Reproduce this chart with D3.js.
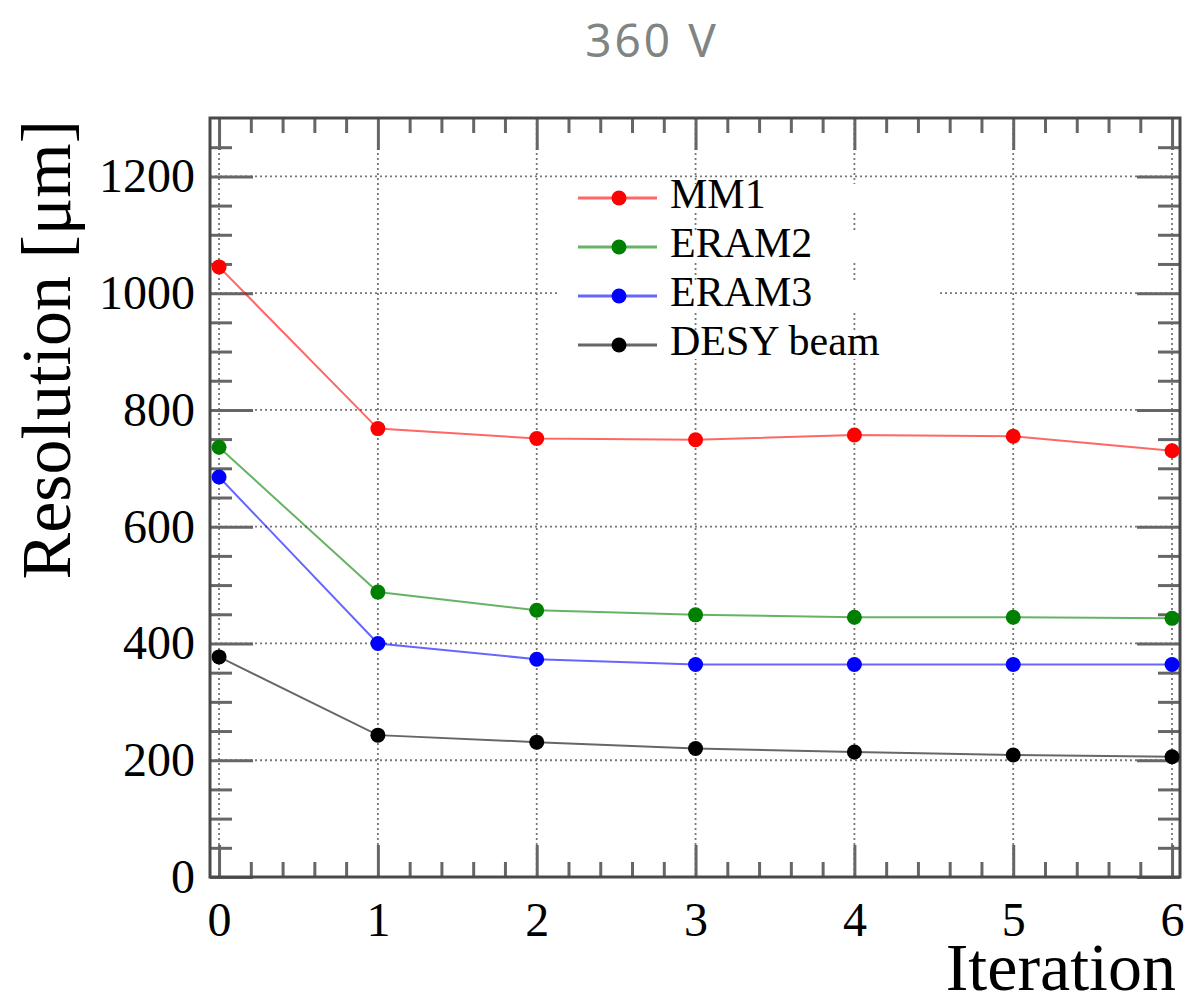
<!DOCTYPE html>
<html>
<head>
    <script src="https://cdnjs.cloudflare.com/ajax/libs/d3/7.8.5/d3.min.js"></script>
    <style>
        body { margin: 0; background: #fff; }
        .tick text { font-family: "Liberation Serif", "Times New Roman", serif; font-size: 48px; fill: #000; }
        .domain { display: none; }
        .grid line { stroke: #777; stroke-width: 1.8; stroke-dasharray: 2,3; }
    </style>
</head>
<body>
    <div id="chart"></div>
    <script>
        // Data
        const iterations = [0, 1, 2, 3, 4, 5, 6];
        const mm1 = [1045, 768, 751, 749, 757, 755, 730];
        const eram2 = [736, 488, 457, 449, 445, 445, 443];
        const eram3 = [685, 400, 373, 364, 364, 364, 364];
        const desy = [377, 243, 231, 220, 214, 209, 206];
        const seriesNames = ["MM1", "ERAM2", "ERAM3", "DESY beam"];
        const seriesColors = ["#ff0000", "#008000", "#0000ff", "#000000"];
        const yTicks = [0, 200, 400, 600, 800, 1000, 1200];

        const width = 1187, height = 1000;
        const pLeft = 210, pRight = 1180, pTop = 118, pBottom = 877;

        const svg = d3.select("#chart").append("svg")
            .attr("width", width)
            .attr("height", height);

        const x = d3.scaleLinear().domain([-0.057, 6.05]).range([pLeft, pRight]);
        const y = d3.scaleLinear().domain([0, 1300]).range([pBottom, pTop]);

        // title
        svg.append("text")
            .attr("x", 652).attr("y", 57)
            .attr("text-anchor", "middle")
            .style("font-family", "'Noto Sans', sans-serif")
            .style("font-size", "46px")
            .style("letter-spacing", "3px")
            .style("fill", "#7f8585")
            .text("360 V");

        // grid
        const grid = svg.append("g").attr("class", "grid");
        grid.selectAll(".gx").data(iterations).join("line")
            .attr("x1", d => x(d)).attr("x2", d => x(d))
            .attr("y1", pTop).attr("y2", pBottom);
        grid.selectAll(".gy").data(yTicks.slice(1)).join("line")
            .attr("x1", pLeft).attr("x2", pRight)
            .attr("y1", d => y(d)).attr("y2", d => y(d));

        // minor ticks
        const xMinor = d3.range(0, 30).map(i => i / 5).filter(v => v % 1 !== 0);
        const yMinor = d3.range(50, 1300, 50).filter(v => v % 200 !== 0);

        function styleTicks(g, w) {
            g.selectAll(".tick line").attr("stroke", "#666").attr("stroke-width", w);
        }

        svg.append("g").attr("transform", `translate(0,${pBottom})`)
            .call(d3.axisBottom(x).tickValues(xMinor).tickSize(-15).tickFormat(""))
            .call(g => styleTicks(g, 3));
        svg.append("g").attr("transform", `translate(0,${pTop})`)
            .call(d3.axisTop(x).tickValues(xMinor).tickSize(-15).tickFormat(""))
            .call(g => styleTicks(g, 3));
        svg.append("g").attr("transform", `translate(${pLeft},0)`)
            .call(d3.axisLeft(y).tickValues(yMinor).tickSize(-22).tickFormat(""))
            .call(g => styleTicks(g, 3));
        svg.append("g").attr("transform", `translate(${pRight},0)`)
            .call(d3.axisRight(y).tickValues(yMinor).tickSize(-22).tickFormat(""))
            .call(g => styleTicks(g, 3));

        // major ticks + labels
        svg.append("g").attr("transform", `translate(0,${pBottom})`)
            .call(d3.axisBottom(x).tickValues(iterations).tickSize(-32).tickPadding(25).tickFormat(d3.format("d")))
            .call(g => styleTicks(g, 3));
        svg.append("g").attr("transform", `translate(0,${pTop})`)
            .call(d3.axisTop(x).tickValues(iterations).tickSize(-32).tickFormat(""))
            .call(g => styleTicks(g, 3));
        svg.append("g").attr("transform", `translate(${pLeft},0)`)
            .call(d3.axisLeft(y).tickValues(yTicks).tickSize(-43).tickPadding(15).tickFormat(d3.format("d")))
            .call(g => styleTicks(g, 3));
        svg.append("g").attr("transform", `translate(${pRight},0)`)
            .call(d3.axisRight(y).tickValues(yTicks).tickSize(-43).tickFormat(""))
            .call(g => styleTicks(g, 3));

        // frame
        svg.append("rect")
            .attr("x", pLeft).attr("y", pTop)
            .attr("width", pRight - pLeft).attr("height", pBottom - pTop)
            .attr("fill", "none").attr("stroke", "#4a4a4a").attr("stroke-width", 3);

        // axis titles
        svg.append("text")
            .attr("transform", `translate(70,${pTop + 2}) rotate(-90)`)
            .attr("text-anchor", "end")
            .style("font-family", "'Liberation Serif', serif")
            .style("font-size", "70px")
            .text("Resolution [μm]");
        svg.append("text")
            .attr("x", 1176).attr("y", 990)
            .attr("text-anchor", "end")
            .style("font-family", "'Liberation Serif', serif")
            .style("font-size", "68px")
            .text("Iteration");

        // series
        const allSeries = [mm1, eram2, eram3, desy];
        const line = d3.line().x((d, i) => x(iterations[i])).y(d => y(d));

        allSeries.forEach((vals, k) => {
            const g = svg.append("g");
            g.append("path")
                .datum(vals)
                .attr("d", line)
                .attr("fill", "none")
                .attr("stroke", seriesColors[k])
                .attr("stroke-opacity", 0.6)
                .attr("stroke-width", 2);
            g.selectAll("circle").data(vals).join("circle")
                .attr("cx", (d, i) => x(iterations[i]))
                .attr("cy", d => y(d))
                .attr("r", 7.5)
                .attr("fill", seriesColors[k]);
        });

        // legend
        const legend = svg.append("g");
        const legRows = legend.selectAll("g").data(seriesNames).join("g")
            .attr("transform", (d, i) => `translate(0,${198 + i * 49})`);
        legRows.append("rect").attr("x", 560).attr("y", -14).attr("width", 380).attr("height", 28).attr("fill", "#fff");
        legRows.append("line")
            .attr("x1", 578).attr("x2", 657)
            .attr("stroke", (d, i) => seriesColors[i])
            .attr("stroke-opacity", 0.6)
            .attr("stroke-width", 3);
        legRows.append("circle")
            .attr("cx", 619).attr("r", 7.5)
            .attr("fill", (d, i) => seriesColors[i]);
        legRows.append("text")
            .attr("x", 670).attr("y", 10)
            .style("font-family", "'Liberation Serif', serif")
            .style("font-size", "42px")
            .text(d => d);
    </script>
</body>
</html>
